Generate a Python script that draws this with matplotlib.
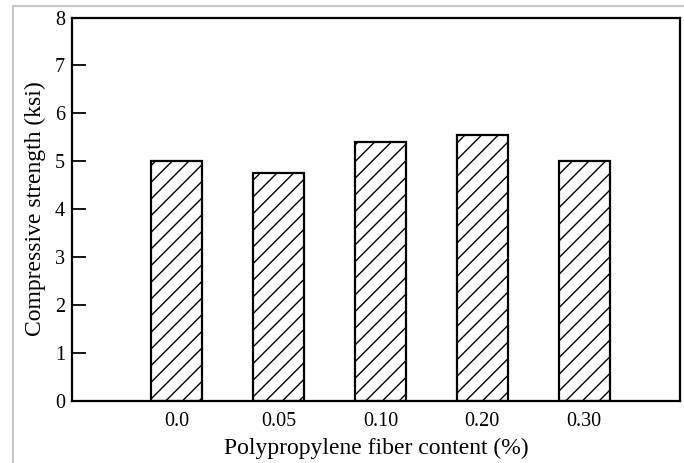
import matplotlib
matplotlib.use("Agg")
import matplotlib.pyplot as plt
from matplotlib.lines import Line2D

categories = ["0.0", "0.05", "0.10", "0.20", "0.30"]
strength = [5.0, 4.75, 5.4, 5.55, 5.0]
yticks = [0, 1, 2, 3, 4, 5, 6, 7, 8]

plt.rcParams['font.family'] = ['Liberation Serif', 'DejaVu Serif']
plt.rcParams['hatch.linewidth'] = 1.0

fig = plt.figure(figsize=(6.84, 4.63), dpi=100)
ax = fig.add_axes([0.105, 0.1346, 0.889, 0.8276])

x = list(range(len(categories)))
ax.bar(x, strength, width=0.5, facecolor='white', edgecolor='black',
       linewidth=1.6, hatch='//')

ax.set_xlim(-1.03, 4.94)
ax.set_ylim(0, 8)
ax.set_yticks(yticks)
ax.set_yticklabels([str(v) for v in yticks])
ax.set_xticks(x)
ax.set_xticklabels(categories)
ax.tick_params(axis='y', direction='in', length=10, width=1.3, pad=5, labelsize=14.5)
ax.tick_params(axis='x', length=0, pad=8, labelsize=14.5)
for s in ax.spines.values():
    s.set_linewidth(1.6)

ax.set_xlabel("Polypropylene fiber content (%)", fontsize=17, labelpad=5)
ax.set_ylabel("Compressive strength (ksi)", fontsize=17, labelpad=6)

# light gray frame of the scanned image
fig.add_artist(Line2D([12.5/684, 12.5/684], [0, 1 - 5.5/463], transform=fig.transFigure,
                      color='#c8c8c8', linewidth=1.5))
fig.add_artist(Line2D([12.5/684, 1], [1 - 5.5/463, 1 - 5.5/463], transform=fig.transFigure,
                      color='#c8c8c8', linewidth=1.5))

fig.savefig("out.png", dpi=100)
